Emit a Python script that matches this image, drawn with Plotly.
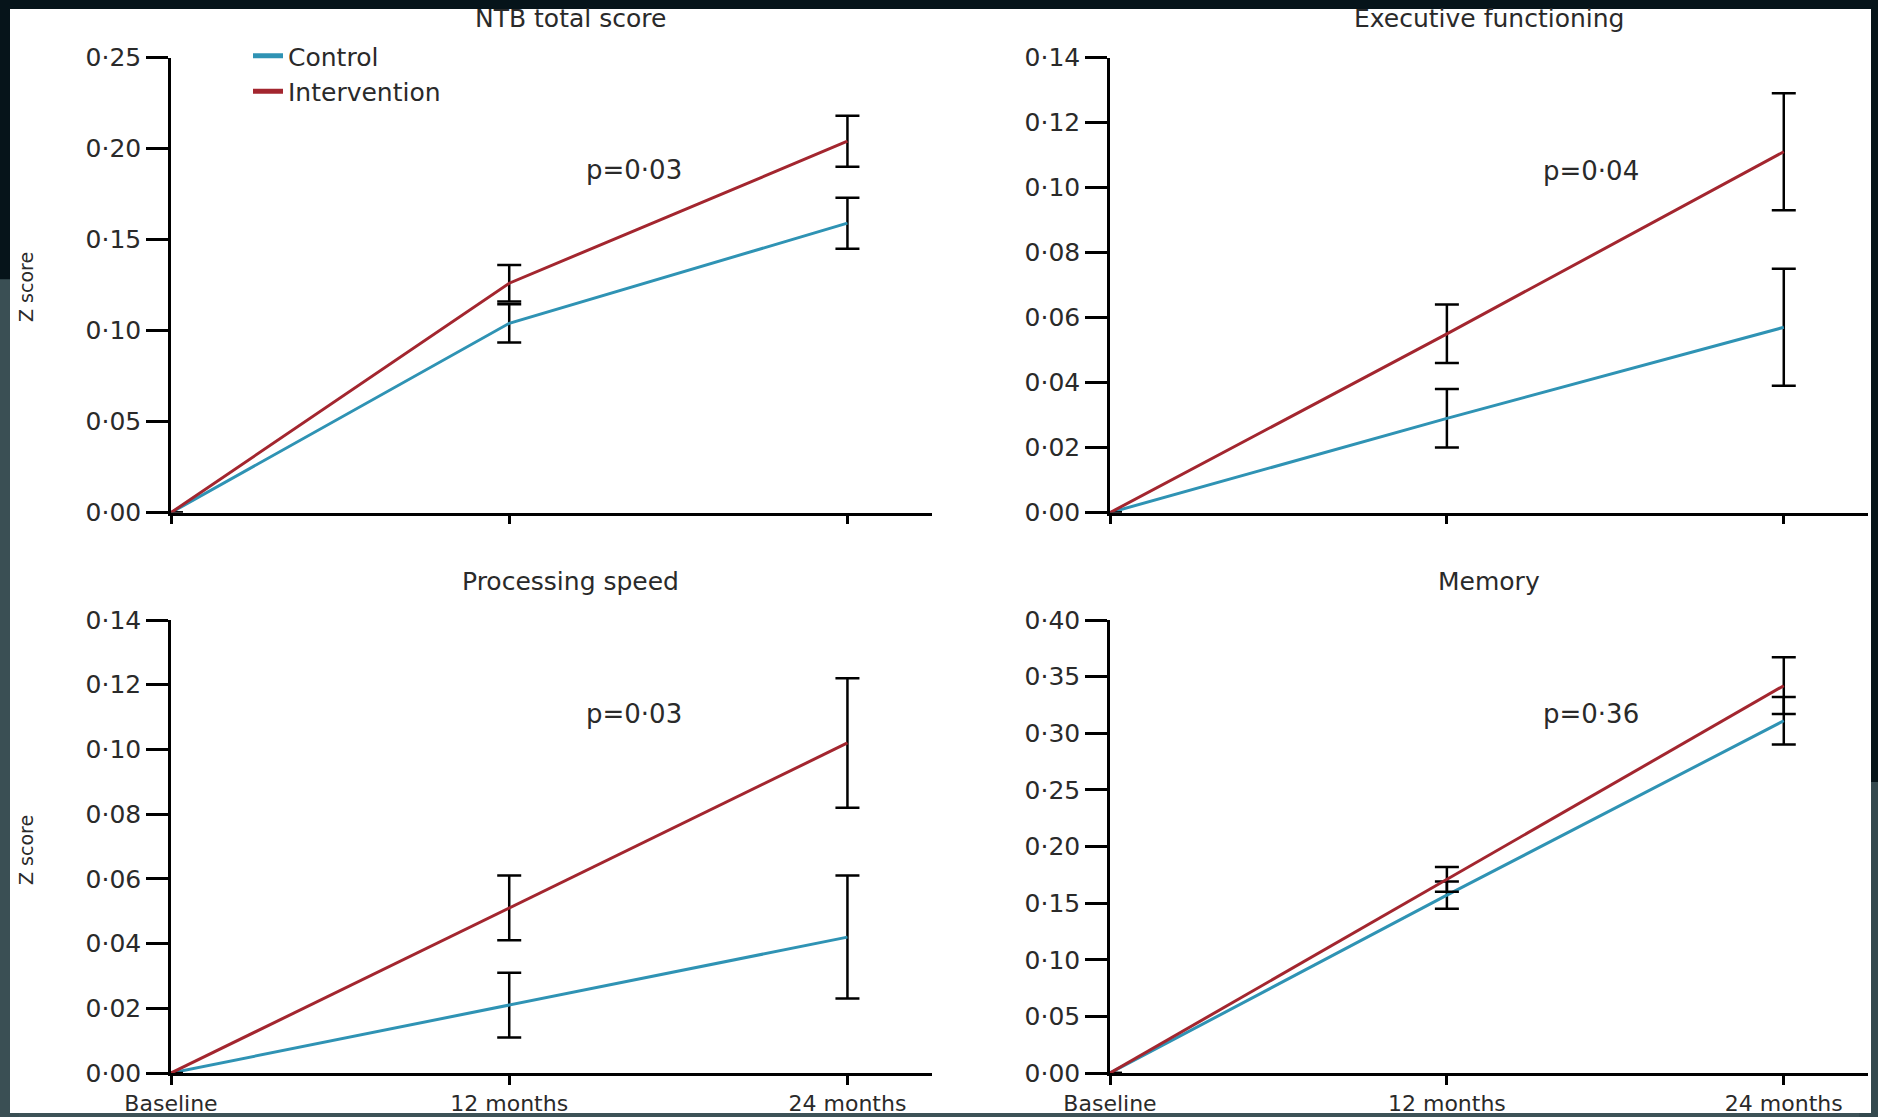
"""
Change in cognitive z scores over 24 months, control vs intervention
"""
import plotly.graph_objects as go
from plotly.subplots import make_subplots

# Data
timepoints = ["Baseline", "12 months", "24 months"]

ntb_control = [0, 0.104, 0.159]
ntb_control_err = [0, 0.0105, 0.014]
ntb_intervention = [0, 0.126, 0.204]
ntb_intervention_err = [0, 0.010, 0.014]

exec_control = [0, 0.029, 0.057]
exec_control_err = [0, 0.009, 0.018]
exec_intervention = [0, 0.055, 0.111]
exec_intervention_err = [0, 0.009, 0.018]

speed_control = [0, 0.021, 0.042]
speed_control_err = [0, 0.010, 0.019]
speed_intervention = [0, 0.051, 0.102]
speed_intervention_err = [0, 0.010, 0.020]

memory_control = [0, 0.157, 0.311]
memory_control_err = [0, 0.012, 0.021]
memory_intervention = [0, 0.171, 0.342]
memory_intervention_err = [0, 0.011, 0.025]

panel_titles = ["NTB total score", "Executive functioning", "Processing speed", "Memory"]
p_values = ["p=0·03", "p=0·04", "p=0·03", "p=0·36"]
y_max = [0.25, 0.14, 0.14, 0.40]
y_step = [0.05, 0.02, 0.02, 0.05]

FONT = "DejaVu Sans"
TEXT = "#2a2a2a"
CONTROL_COLOR = "#2f93b4"
INTERVENTION_COLOR = "#a3262f"
W, H = 1878, 1117

panels = [
    (ntb_control, ntb_control_err, ntb_intervention, ntb_intervention_err),
    (exec_control, exec_control_err, exec_intervention, exec_intervention_err),
    (speed_control, speed_control_err, speed_intervention, speed_intervention_err),
    (memory_control, memory_control_err, memory_intervention, memory_intervention_err),
]

fig = make_subplots(rows=2, cols=2)

for i, (c, c_err, t, t_err) in enumerate(panels):
    row, col = i // 2 + 1, i % 2 + 1
    fig.add_trace(go.Scatter(
        x=timepoints, y=c, name="Control", mode="lines",
        line=dict(color=CONTROL_COLOR, width=3),
        error_y=dict(type="data", array=c_err, color="black", thickness=2.5, width=12),
        showlegend=(i == 0), cliponaxis=False,
    ), row=row, col=col)
    fig.add_trace(go.Scatter(
        x=timepoints, y=t, name="Intervention", mode="lines",
        line=dict(color=INTERVENTION_COLOR, width=3),
        error_y=dict(type="data", array=t_err, color="black", thickness=2.5, width=12),
        showlegend=(i == 0), cliponaxis=False,
    ), row=row, col=col)

# panel domains (pixel positions from the figure)
x_domains = [[171 / W, 932 / W], [1110 / W, 1868 / W]]
y_domains = [[1 - 512.6 / H, 1 - 57.5 / H], [1 - 1073 / H, 1 - 620 / H]]

for i in range(4):
    row, col = i // 2 + 1, i % 2 + 1
    fig.update_xaxes(
        type="category", range=[0, 2.25], domain=x_domains[col - 1],
        showline=True, linecolor="black", linewidth=2.5,
        ticks="outside", ticklen=9, tickwidth=2.5, tickcolor="black",
        showgrid=False, zeroline=False, automargin=False,
        showticklabels=(row == 2),
        tickfont=dict(family=FONT, size=22, color=TEXT),
        row=row, col=col)
    fig.update_yaxes(
        range=[0, y_max[i]], dtick=y_step[i], tick0=0, tickformat=".2f",
        domain=y_domains[row - 1],
        showline=True, linecolor="black", linewidth=2.5,
        ticks="outside", ticklen=22, tickwidth=2.5, tickcolor="black",
        showgrid=False, zeroline=False, automargin=False,
        tickfont=dict(family=FONT, size=25, color=TEXT),
        row=row, col=col)

annotations = []
title_pos = [(570, 19), (1489, 19), (570, 581), (1489, 581)]
for (px, py), title in zip(title_pos, panel_titles):
    annotations.append(dict(
        text=title, x=px / W, y=1 - py / H, xref="paper", yref="paper",
        xanchor="center", yanchor="middle",
        showarrow=False, font=dict(family=FONT, size=25, color=TEXT)))

p_pos = [(1.368, 0.188), (1.429, 0.105), (1.368, 0.111), (1.429, 0.317)]
axis_ids = ["", "2", "3", "4"]
for (px, py), label, ax in zip(p_pos, p_values, axis_ids):
    annotations.append(dict(
        text=label, x=px, y=py, xref="x" + ax, yref="y" + ax,
        xanchor="center", yanchor="middle",
        showarrow=False, font=dict(family=FONT, size=26, color=TEXT)))

for py in [287, 850]:
    annotations.append(dict(
        text="Z score", x=26 / W, y=1 - py / H, xref="paper", yref="paper",
        xanchor="center", yanchor="middle",
        textangle=-90, showarrow=False, font=dict(family=FONT, size=19, color=TEXT)))

shapes = [
    # slate parts of the dark frame
    dict(type="rect", xref="paper", yref="paper", x0=0, x1=1, y0=0, y1=0.02,
         fillcolor="#3d5257", line_width=0, layer="below"),
    dict(type="rect", xref="paper", yref="paper", x0=0, x1=0.01, y0=0, y1=0.75,
         fillcolor="#3a4f54", line_width=0, layer="below"),
    dict(type="rect", xref="paper", yref="paper", x0=0.99, x1=1, y0=0, y1=0.3,
         fillcolor="#34494e", line_width=0, layer="below"),
    # white page
    dict(type="rect", xref="paper", yref="paper",
         x0=10 / W, x1=1871 / W, y0=1 - 1113 / H, y1=1 - 9 / H,
         fillcolor="white", line_width=0, layer="below"),
]

fig.update_layout(
    width=W, height=H,
    margin=dict(l=0, r=0, t=0, b=0, autoexpand=False),
    paper_bgcolor="#06141a",
    plot_bgcolor="rgba(0,0,0,0)",
    separators="·,",
    font=dict(family=FONT, color=TEXT),
    legend=dict(
        x=248 / W, y=1 - 33 / H, xanchor="left", yanchor="top",
        bgcolor="rgba(0,0,0,0)", font=dict(family=FONT, size=25, color=TEXT),
        tracegroupgap=0, itemsizing="constant",
    ),
    annotations=annotations,
    shapes=shapes,
)

fig.write_html("out.html", config={"displayModeBar": False},
               post_script="document.body.style.margin='0';")
